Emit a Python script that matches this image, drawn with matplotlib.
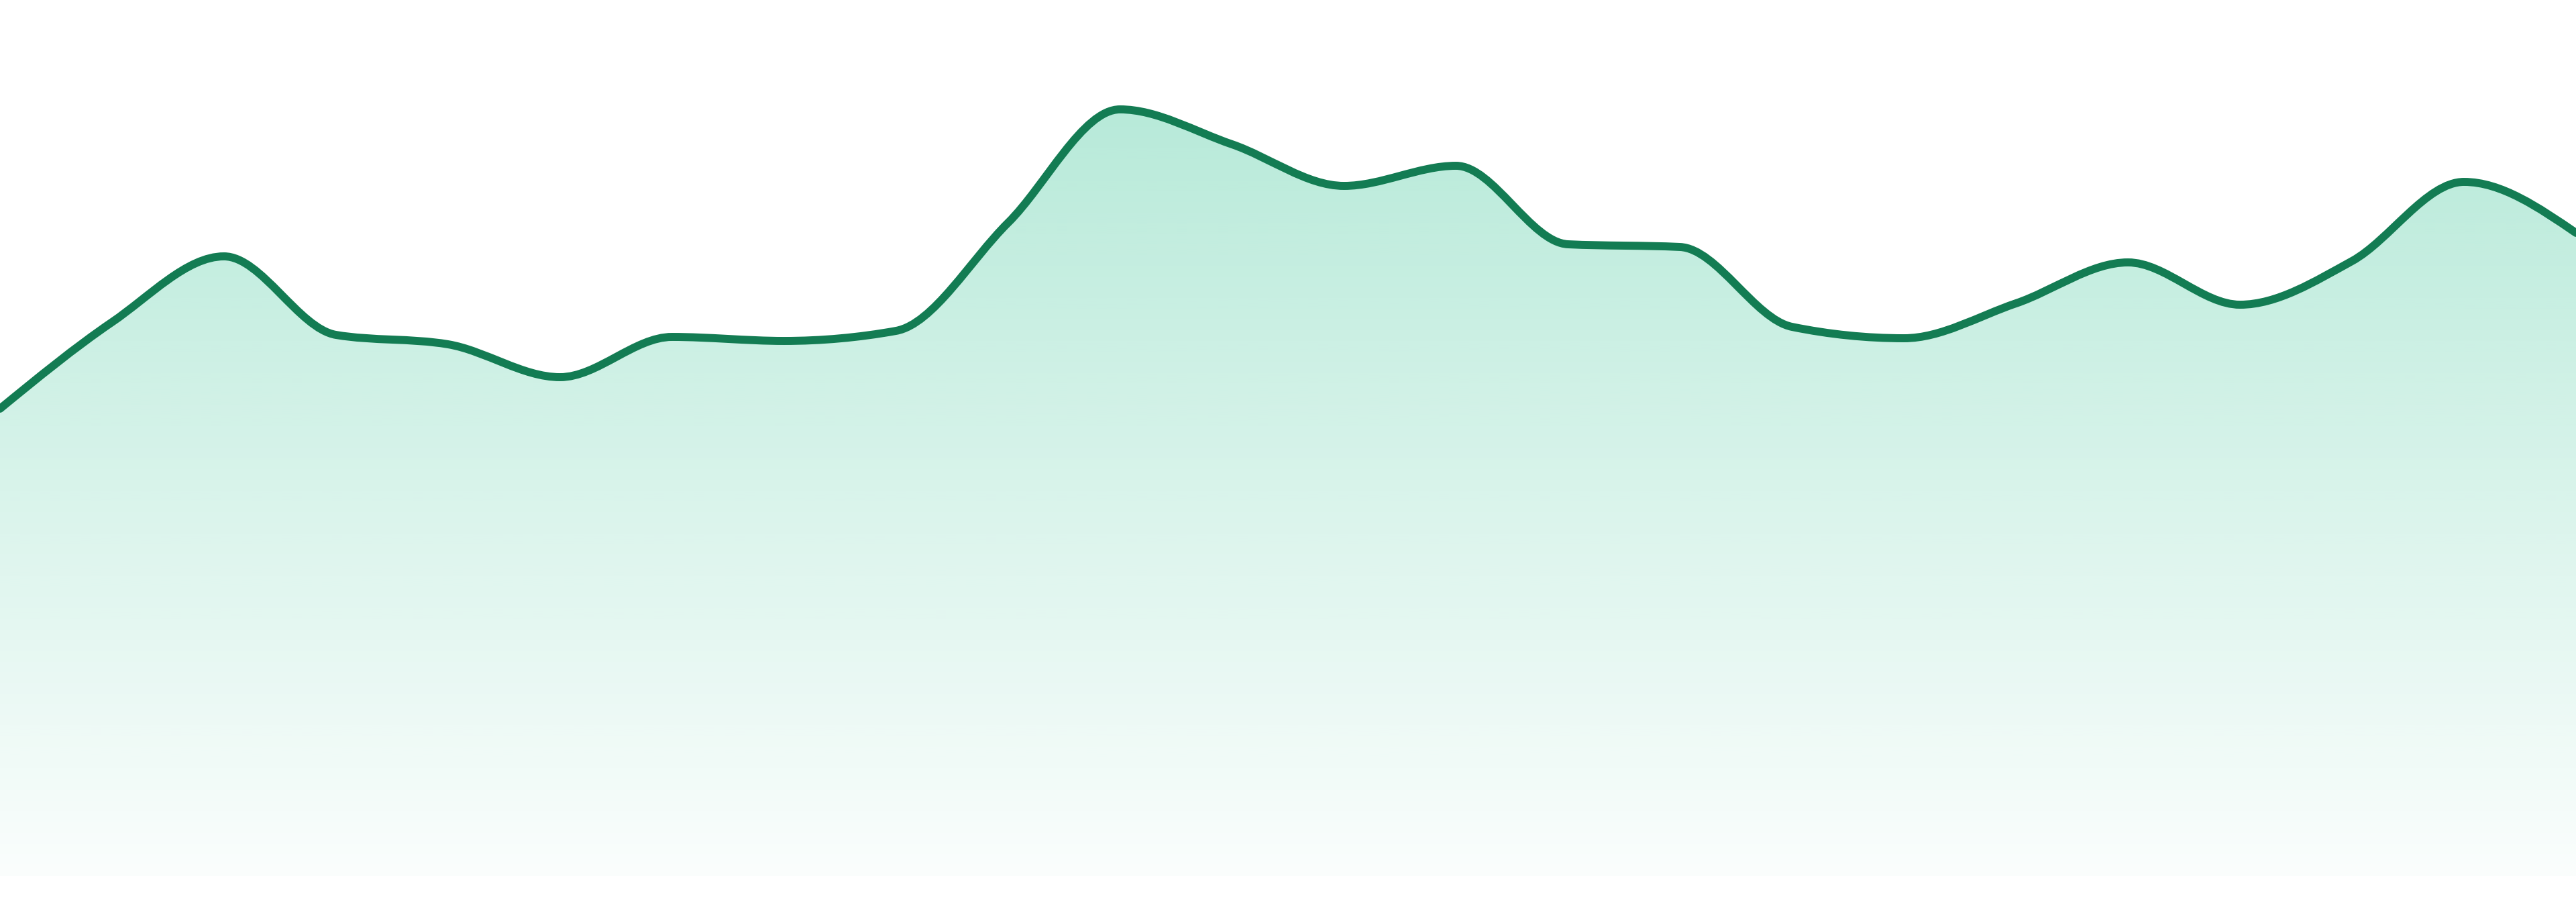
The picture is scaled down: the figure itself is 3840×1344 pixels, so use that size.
import numpy as np
import matplotlib
matplotlib.use("Agg")
import matplotlib.pyplot as plt
from matplotlib.path import Path
from matplotlib.patches import PathPatch
from matplotlib.colors import to_rgb

# data (one value per step, baseline = 0)
steps = list(range(24))
values = [696, 825, 923, 806, 792, 743, 803, 797, 812, 973, 1142, 1090,
          1028, 1058, 941, 937, 818, 801, 853, 914, 851, 916, 1034, 958]

line_color = "#137c53"
fill_color = "#10b981"


def monotone_tangents(x, y):
    x = np.asarray(x, float)
    y = np.asarray(y, float)
    n = len(x)
    t = np.zeros(n)
    for i in range(1, n - 1):
        h0 = x[i] - x[i - 1]
        h1 = x[i + 1] - x[i]
        s0 = (y[i] - y[i - 1]) / h0
        s1 = (y[i + 1] - y[i]) / h1
        p = (s0 * h1 + s1 * h0) / (h0 + h1)
        sg = (1 if s0 >= 0 else -1) + (1 if s1 >= 0 else -1)
        t[i] = sg * min(abs(s0), abs(s1), 0.5 * abs(p))
    t[0] = (3 * (y[1] - y[0]) / (x[1] - x[0]) - t[1]) / 2
    t[-1] = (3 * (y[-1] - y[-2]) / (x[-1] - x[-2]) - t[-2]) / 2
    return t


def curve_path(x, y, close_to=None):
    t = monotone_tangents(x, y)
    verts = [(x[0], y[0])]
    codes = [Path.MOVETO]
    for i in range(len(x) - 1):
        dx = (x[i + 1] - x[i]) / 3
        verts += [(x[i] + dx, y[i] + dx * t[i]),
                  (x[i + 1] - dx, y[i + 1] - dx * t[i + 1]),
                  (x[i + 1], y[i + 1])]
        codes += [Path.CURVE4] * 3
    if close_to is not None:
        verts += [(x[-1], close_to), (x[0], close_to), (x[0], close_to)]
        codes += [Path.LINETO, Path.LINETO, Path.CLOSEPOLY]
    return Path(verts, codes)


fig = plt.figure(figsize=(19.2, 6.72), dpi=200)
ax = fig.add_axes([0, 0, 1, 1])
ax.set_xlim(0, 23)
ax.set_ylim(-39, 1305)
ax.axis("off")

# gradient area
top = max(values)
area = PathPatch(curve_path(steps, values, close_to=0), facecolor="none",
                 edgecolor="none", transform=ax.transData)
ax.add_patch(area)
grad = np.linspace(0.3, 0.02, 256).reshape(-1, 1)
rgba = np.zeros((256, 1, 4))
rgba[..., :3] = to_rgb(fill_color)
rgba[..., 3] = grad
img = ax.imshow(rgba, extent=[0, 23, 0, top], aspect="auto", origin="upper",
                interpolation="bilinear", zorder=1)
img.set_clip_path(area)

# line
ax.add_patch(PathPatch(curve_path(steps, values), facecolor="none",
                       edgecolor=line_color, lw=4.3, zorder=3,
                       capstyle="round", joinstyle="round"))

fig.savefig("out.png", dpi=200, facecolor="white")
